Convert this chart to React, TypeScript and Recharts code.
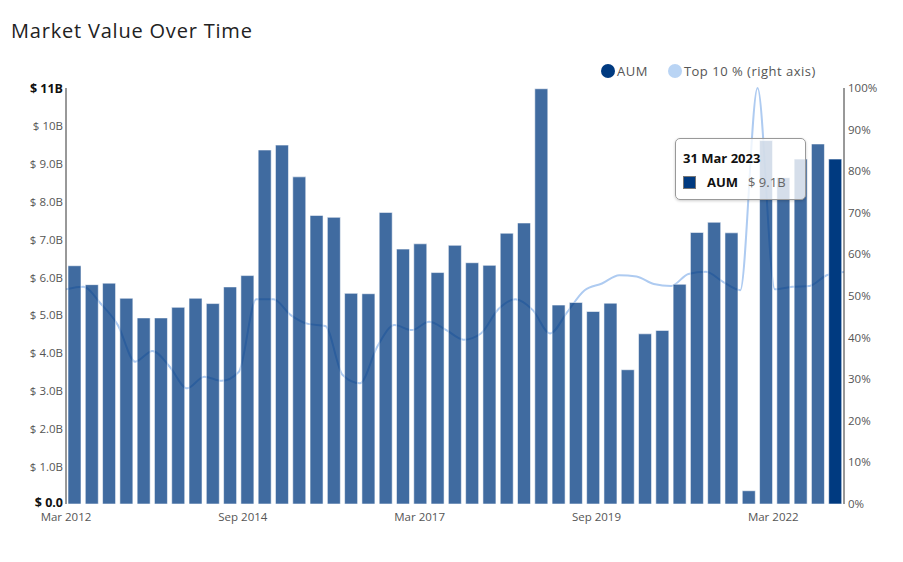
import { Bar, Cell, ComposedChart, Line, Tooltip, XAxis, YAxis } from "recharts";

const months = ["Mar", "Jun", "Sep", "Dec"];
const monthEndDay: Record<string, number> = { Mar: 31, Jun: 30, Sep: 30, Dec: 31 };

// quarter ends, Mar 2012 .. Mar 2023
const quarters: string[] = [];
for (let year = 2012; year <= 2023; year++) {
  for (const m of months) {
    if (year === 2023 && m !== "Mar") break;
    quarters.push(`${m} ${year}`);
  }
}

// AUM in $ billions, one per quarter
const aumValues = [
  6.3, 5.8, 5.84, 5.44, 4.92, 4.92, 5.2, 5.44, 5.3, 5.74, 6.04, 9.36, 9.49, 8.65, 7.63, 7.58,
  5.57, 5.56, 7.71, 6.74, 6.88, 6.12, 6.84, 6.38, 6.31, 7.16, 7.43, 10.98, 5.26, 5.33, 5.09,
  5.31, 3.55, 4.5, 4.59, 5.81, 7.18, 7.45, 7.17, 0.35, 9.61, 8.63, 9.12, 9.52, 9.12,
];

// Top 10 % share, sampled on quarter boundaries (one more than bars)
const top10Values = [
  51.6, 52.2, 48.2, 43.0, 34.2, 36.8, 33.0, 27.8, 30.6, 29.6, 31.8, 49.2, 49.2, 45.4, 43.3, 42.8,
  31.0, 29.0, 37.8, 43.0, 41.8, 43.8, 41.8, 39.5, 41.0, 46.8, 49.2, 46.6, 41.0, 46.2, 51.4, 53.0,
  55.0, 54.7, 52.9, 52.4, 55.3, 55.8, 53.4, 51.4, 100, 51.6, 52.2, 52.4, 55.0, 55.8,
];

const aumTicks = [0, 1, 2, 3, 4, 5, 6, 7, 8, 9, 10, 11];
const pctTicks = [0, 10, 20, 30, 40, 50, 60, 70, 80, 90, 100];

const data = quarters.map((quarter, i) => ({ quarter, aum: aumValues[i] }));
const lineData = top10Values.map((top10, i) => ({ t: i, top10 }));

const activeIndex = data.length - 1;
const FONT = "'Open Sans', sans-serif";
const DARK = "#003a80";
const LIGHT = "#aecbf1";
const W = 887;
const H = 530;
const MARGIN = { top: 80, right: 6, bottom: 4, left: 8 };

function formatAum(v: number) {
  if (v === 0) return "$ 0.0";
  if (v >= 10) return `$ ${Math.round(v)}B`;
  return `$ ${v.toFixed(1)}B`;
}

function AumTick({ x, y, payload }: any) {
  const v = payload.value;
  const strong = v === 0 || v === 11;
  return (
    <text
      x={x}
      y={v === 0 ? y - 2 : y}
      textAnchor="end"
      dominantBaseline="central"
      fontFamily={FONT}
      fontSize={strong ? 12.5 : 11.5}
      fontWeight={strong ? 700 : 400}
      fill={strong ? "#111" : "#555"}
    >
      {formatAum(v)}
    </text>
  );
}

function AumTooltip({ active, label }: any) {
  if (!active) return null;
  const row = data.find((d) => d.quarter === label) ?? data[activeIndex];
  const [m, y] = row.quarter.split(" ");
  return (
    <div
      style={{
        width: 115,
        padding: "10px 7px 8px 7px",
        background: "rgba(255,255,255,0.78)",
        border: "1px solid #999",
        borderRadius: 5,
        boxShadow: "0 1px 3px rgba(0,0,0,0.2)",
        fontFamily: FONT,
        fontSize: 13,
        color: "#111",
      }}
    >
      <div style={{ fontWeight: 700 }}>{`${monthEndDay[m]} ${m} ${y}`}</div>
      <div style={{ display: "flex", alignItems: "center", marginTop: 6 }}>
        <span
          style={{
            display: "inline-block",
            width: 11,
            height: 11,
            background: DARK,
            border: "1px solid #777",
            marginRight: 11,
          }}
        />
        <span style={{ fontWeight: 700, marginRight: 10 }}>AUM</span>
        <span style={{ color: "#666" }}>{formatAum(row.aum)}</span>
      </div>
    </div>
  );
}

export default function App() {
  return (
    <div style={{ position: "relative", width: W, height: H, fontFamily: FONT }}>
      <div
        style={{
          position: "absolute",
          left: 3,
          top: 11,
          fontSize: 20,
          color: "#222",
          lineHeight: "24px",
          letterSpacing: 0.8,
        }}
      >
        Market Value Over Time
      </div>
      <div
        style={{
          position: "absolute",
          left: 593,
          top: 54,
          display: "flex",
          alignItems: "center",
          fontSize: 13,
          color: "#555",
          letterSpacing: 0.5,
          zIndex: 2,
        }}
      >
        <span style={{ width: 14, height: 14, borderRadius: 7, background: DARK, marginRight: 2 }} />
        <span style={{ marginRight: 20 }}>AUM</span>
        <span style={{ width: 14, height: 14, borderRadius: 7, background: "#b9d4f4", marginRight: 2 }} />
        <span>Top 10 % (right axis)</span>
      </div>

      {/* back layer: x labels, right axis and the Top 10 % line, seen through the bars */}
      <ComposedChart
        width={W}
        height={H}
        data={data}
        margin={MARGIN}
        style={{ position: "absolute", left: 0, top: 0 }}
      >
        <XAxis
          dataKey="quarter"
          interval={9}
          tickLine={false}
          axisLine={false}
          tickSize={3}
          tickMargin={6}
          tick={{ fontSize: 11.5, fill: "#555", fontFamily: FONT }}
        />
        <XAxis xAxisId="line" type="number" dataKey="t" domain={[0, 45]} hide allowDataOverflow />
        <YAxis yAxisId="aum" width={50} tick={false} tickLine={false} axisLine={false} />
        <YAxis
          yAxisId="pct"
          orientation="right"
          domain={[0, 100]}
          ticks={pctTicks}
          width={45}
          tickLine={false}
          tickSize={0}
          tickMargin={4}
          axisLine={{ stroke: "#333" }}
          tickFormatter={(v: number) => `${v}%`}
          tick={{ fontSize: 11.5, fill: "#555", fontFamily: FONT }}
        />
        <Line
          xAxisId="line"
          yAxisId="pct"
          data={lineData}
          dataKey="top10"
          type="monotone"
          stroke={LIGHT}
          strokeWidth={2}
          dot={false}
          activeDot={false}
          isAnimationActive={false}
        />
      </ComposedChart>

      {/* front layer: AUM bars, left axis and the tooltip */}
      <ComposedChart
        width={W}
        height={H}
        data={data}
        margin={MARGIN}
        barCategoryGap={2}
        style={{ position: "absolute", left: 0, top: 0 }}
      >
        <XAxis dataKey="quarter" tick={false} tickLine={false} axisLine={false} />
        <YAxis
          yAxisId="aum"
          domain={[0, 11]}
          ticks={aumTicks}
          width={50}
          tickLine={false}
          tickSize={0}
          tickMargin={3}
          axisLine={{ stroke: "#333" }}
          tick={<AumTick />}
        />
        <YAxis
          yAxisId="pct"
          orientation="right"
          domain={[0, 100]}
          width={45}
          tick={false}
          tickLine={false}
          axisLine={false}
        />
        <Bar
          yAxisId="aum"
          dataKey="aum"
          fill={DARK}
          stroke="#ffffff"
          strokeOpacity={0.55}
          isAnimationActive={false}
        >
          {data.map((d, i) => (
            <Cell key={d.quarter} fillOpacity={i === activeIndex ? 1 : 0.75} />
          ))}
        </Bar>
        <Tooltip
          defaultIndex={activeIndex}
          active
          cursor={false}
          position={{ x: 667, y: 130 }}
          content={<AumTooltip />}
          isAnimationActive={false}
          wrapperStyle={{ zIndex: 3 }}
        />
      </ComposedChart>
    </div>
  );
}
